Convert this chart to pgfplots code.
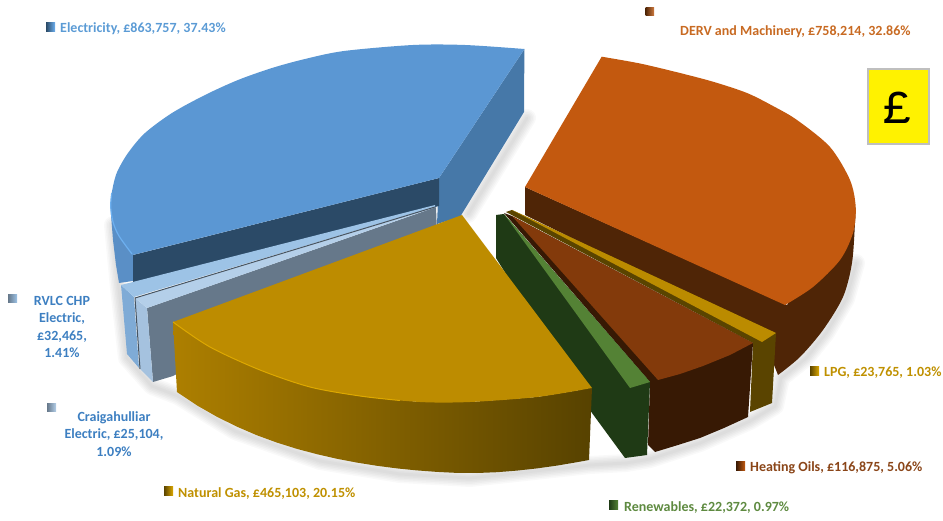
\documentclass[border=0pt]{standalone}
\usepackage{pgfplots}
\pgfplotsset{compat=1.18}
\usepackage{fontspec}
\setmainfont{Carlito}
\newfontfamily\monof{Liberation Mono}
\definecolor{elecTop}{HTML}{5B97D3}
\definecolor{elecRight}{HTML}{4678A8}
\definecolor{elecLeft}{HTML}{5A8FC6}
\definecolor{elecDark}{HTML}{2B4A67}
\definecolor{elecEdge}{HTML}{6DB0F0}
\definecolor{rvlcTop}{HTML}{9DC3E6}
\definecolor{rvlcFront}{HTML}{7FABD6}
\definecolor{craigTop}{HTML}{B4CFE9}
\definecolor{craigFront}{HTML}{A5C2DF}
\definecolor{craigWall}{HTML}{66788A}
\definecolor{gasTop}{HTML}{BD8C00}
\definecolor{gasEdge}{HTML}{DDA800}
\definecolor{gasL}{HTML}{AD7F00}
\definecolor{gasR}{HTML}{574200}
\definecolor{dervTop}{HTML}{C3590F}
\definecolor{dervWall}{HTML}{4F2506}
\definecolor{lpgTop}{HTML}{BB8B00}
\definecolor{lpgWall}{HTML}{5A4400}
\definecolor{oilTop}{HTML}{833A0B}
\definecolor{oilWall}{HTML}{371904}
\definecolor{renTop}{HTML}{548235}
\definecolor{renWall}{HTML}{1F3A15}
\definecolor{txtBlue}{HTML}{5B9BD5}
\definecolor{txtBlueD}{HTML}{3D7FC1}
\definecolor{txtOrange}{HTML}{C86A22}
\definecolor{txtGold}{HTML}{BF9000}
\definecolor{txtBrown}{HTML}{8A4518}
\definecolor{txtGreen}{HTML}{5E8A40}
\newcommand{\lbl}{\fontsize{14}{17.3}\selectfont\bfseries}
\begin{document}
\begin{tikzpicture}
\useasboundingbox (0,0) rectangle (943pt,521pt);
\begin{axis}[
  at={(0,0)}, anchor=south west,
  scale only axis, width=943pt, height=521pt,
  xmin=0, xmax=943, ymin=0, ymax=521, y dir=reverse,
  axis lines=none, clip=false,
]
% soft shadow under the slices
\pgfplotsinvokeforeach{3,6,9,12,15,18}{
  \addplot[draw=black, opacity=0.022, line width=#1pt, line join=round, line cap=round, forget plot] coordinates {
    (527,118) (468,214)};
  \addplot[draw=black, opacity=0.022, line width=#1pt, line join=round, line cap=round, forget plot] coordinates {
    (113,225) (119,288) (127,358) (152,386) (178,396) (235,431) (320,461) (400,474) (470,478) (590,465) (626,463) (650,459) (700,443) (750,421) (775,406) (781,378) (806,358) (826,333) (846,299) (856,263)};
}
% DERV and Machinery
\addplot[smooth, draw=none, fill=dervWall] coordinates {
  (855.7,207) (855,223) (852,263) (843,297) (823,330) (800,357) (778,375)}
  -- (axis cs:760,330) -- (axis cs:525,215) -- (axis cs:525,187) -- (axis cs:787,305) -- cycle;
\addplot[smooth, draw=none, fill=dervTop] coordinates {
  (601.7,56.7) (640,63.5) (680,73) (714,82) (747,93) (773,106) (797,120) (830,147) (850,180) (855.7,207) (853,233) (840,260) (813,287) (785,305)}
  -- (axis cs:525,187) -- cycle;
% Electricity
\addplot[draw=none, fill=elecRight] coordinates {
  (439,178) (524.4,49) (524,112) (460,217) (437,224)} -- cycle;
\addplot[draw=none, fill=elecLeft] coordinates {
  (110.7,206) (111,215) (113,240) (116,265) (119,283) (133,281) (133,255)} -- cycle;
\addplot[draw=none, fill=elecDark] coordinates {
  (439,178) (133,255) (133,283) (439,206)} -- cycle;
\addplot[smooth, draw=none, fill=elecTop] coordinates {
  (132.6,255) (119,236) (113,222) (110.7,206.7) (111.7,193) (116.7,173) (128,153) (145,133) (172,113) (205,95) (238,80) (272,68) (305,59) (344,51) (413,45) (465,45) (524.4,49)}
  -- (axis cs:439,178) -- cycle;
\addplot[smooth, draw=elecEdge, line width=1.2pt] coordinates {
  (132,254) (119,236) (113,222) (110.7,206.7) (111.7,193)};
% RVLC CHP Electric
\addplot[draw=none, fill=rvlcFront] coordinates {
  (121,285) (134,297) (139,368) (127,354)} -- cycle;
\addplot[draw=none, fill=rvlcTop] coordinates {
  (435,205) (121,285) (134,297) (435,207)} -- cycle;
% Craigahulliar Electric
\addplot[draw=none, fill=craigWall] coordinates {
  (147,308) (436,207) (437,233) (173,376) (153,382)} -- cycle;
\addplot[draw=none, fill=craigFront] coordinates {
  (135,298) (147,308) (153,382) (140,369)} -- cycle;
\addplot[draw=none, fill=craigTop] coordinates {
  (436,207) (135,298) (147,308)} -- cycle;
\addplot[draw=craigWall!70!black, line width=1pt] coordinates {
  (435,207) (135,298) (140,369)};
% LPG
\addplot[draw=none, fill=lpgWall] coordinates {
  (506,212) (512,210) (776,333) (772,403) (750,412) (753,343)} -- cycle;
\addplot[draw=none, fill=lpgTop] coordinates {
  (512,210) (776,333) (762,342)} -- cycle;
% Heating Oils
\addplot[draw=none, fill=oilWall] coordinates {
  (504,213) (512,216) (753,343) (748,417) (724,428) (700,438) (678,445) (655,452) (648,445) (650,382)} -- cycle;
\addplot[draw=none, fill=oilTop] coordinates {
  (512,216) (753,343) (730,355) (703,366) (680,374) (658,380)} -- cycle;
% Renewables
\addplot[draw=none, fill=renWall] coordinates {
  (496,215) (504,214) (650,382) (647,455) (625,458) (592,413) (496,258)} -- cycle;
\addplot[draw=none, fill=renTop] coordinates {
  (504,214) (650,382) (630,388)} -- cycle;
% Natural Gas
\addplot[draw=none, left color=gasL, right color=gasR] coordinates {
  (173,322) (210,347) (260,370) (310,387) (360,396) (420,402) (470,402) (537,397) (592,388) (589,460) (577,462.2) (557,465.6) (537,468.4) (517,470.6) (497,472.2) (477,473) (457,472.9) (437,471.9) (417,470.4) (397,468.4) (377,465.8) (357,462.6) (337,458.8) (317,454.2) (297,448.9) (277,442.6) (257,435.3) (237,426.7) (217,416.8) (197,405.4) (177,392)} -- cycle;
\addplot[smooth, draw=none, fill=gasTop] coordinates {
  (173,322) (210,347) (260,370) (310,387) (360,396) (420,402) (470,402) (537,397) (592,388)}
  -- (axis cs:462,215) -- cycle;
\addplot[smooth, draw=gasEdge, line width=1pt] coordinates {
  (173,322) (210,347) (260,370) (310,387) (360,396) (400,400.5)};
% legend keys beside the labels
\addplot[draw=none, left color=elecDark, right color=elecEdge] coordinates {(46,23) (55,23) (55,32) (46,32)} -- cycle;
\addplot[draw=none, left color=dervWall, right color=dervTop!80!white] coordinates {(645.5,8) (654,8) (654,16) (645.5,16)} -- cycle;
\addplot[draw=none, left color=lpgWall, right color=gasEdge] coordinates {(810,367) (819,367) (819,376) (810,376)} -- cycle;
\addplot[draw=none, left color=oilWall, right color=dervTop] coordinates {(736,461) (745,461) (745,470) (736,470)} -- cycle;
\addplot[draw=none, left color=renWall, right color=renTop] coordinates {(609,500) (618,500) (618,509) (609,509)} -- cycle;
\addplot[draw=none, left color=lpgWall, right color=gasEdge] coordinates {(164,486) (173,486) (173,495) (164,495)} -- cycle;
\addplot[draw=none, left color=craigWall, right color=craigTop] coordinates {(47,404) (56,404) (56,412) (47,412)} -- cycle;
\addplot[draw=none, left color=craigWall, right color=rvlcTop] coordinates {(8,295) (17,295) (17,303) (8,303)} -- cycle;
% currency badge
\addplot[draw=black!25, line width=1.5pt, fill=yellow] coordinates {(868,69) (929,69) (929,144) (868,144)} -- cycle;
\node[font=\monof\fontsize{47}{47}\selectfont, text=black] at (axis cs:897.5,108) {£};
% data labels
\node[anchor=west, inner sep=0pt, text=txtBlue, font=\lbl] at (axis cs:60,28.5) {Electricity, £863,757, 37.43\%};
\node[anchor=west, inner sep=0pt, text=txtOrange, font=\lbl] at (axis cs:680,31.5) {DERV and Machinery, £758,214, 32.86\%};
\node[anchor=west, inner sep=0pt, text=txtGold, font=\lbl] at (axis cs:824,372.5) {LPG, £23,765, 1.03\%};
\node[anchor=west, inner sep=0pt, text=txtBrown, font=\lbl] at (axis cs:750,467.5) {Heating Oils, £116,875, 5.06\%};
\node[anchor=west, inner sep=0pt, text=txtGreen, font=\lbl] at (axis cs:624,507.5) {Renewables, £22,372, 0.97\%};
\node[anchor=west, inner sep=0pt, text=txtGold, font=\lbl] at (axis cs:178,493.5) {Natural Gas, £465,103, 20.15\%};
\node[align=center, inner sep=0pt, text=txtBlueD, font=\lbl] at (axis cs:62,327) {RVLC CHP\\Electric,\\£32,465,\\1.41\%};
\node[align=center, inner sep=0pt, text=txtBlueD, font=\lbl] at (axis cs:114,434) {Craigahulliar\\Electric, £25,104,\\1.09\%};
\end{axis}
\end{tikzpicture}
\end{document}
